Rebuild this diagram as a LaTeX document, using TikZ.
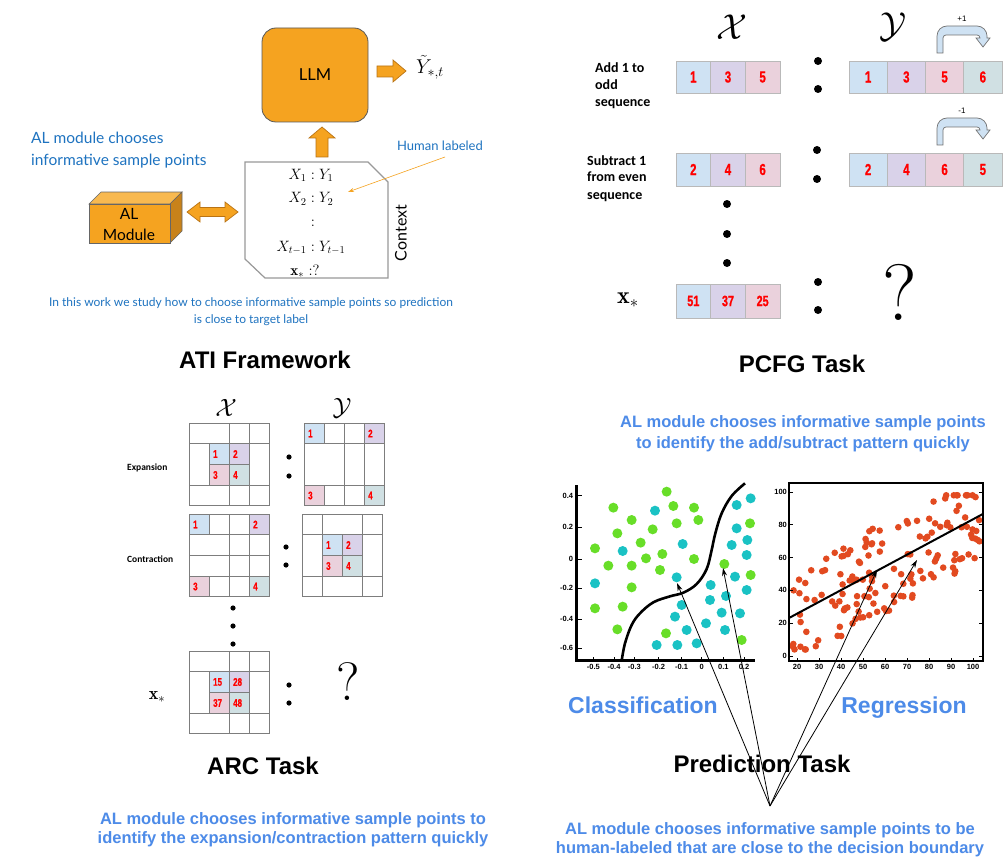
\RequirePackage{fix-cm}
\documentclass[tikz,border=0pt]{standalone}
\usepackage{fontspec}
\usetikzlibrary{arrows.meta}
\newfontfamily\gill{Lato}
\newfontfamily\arial{Liberation Sans}
\newfontfamily\narrow[FakeStretch=0.72,FakeBold=0.8]{Liberation Sans}
\newfontfamily\calib{Carlito}
\definecolor{orng}{RGB}{245,163,32}
\definecolor{orngL}{RGB}{248,185,80}
\definecolor{orngD}{RGB}{200,130,26}
\definecolor{orngE}{RGB}{185,115,20}
\definecolor{atiblue}{RGB}{30,115,192}
\definecolor{capblue}{RGB}{77,139,232}
\definecolor{cB}{RGB}{207,226,243}
\definecolor{cP}{RGB}{217,210,233}
\definecolor{cK}{RGB}{234,209,220}
\definecolor{cT}{RGB}{208,224,227}
\definecolor{cellgray}{RGB}{185,185,185}
\definecolor{gridgray}{RGB}{125,125,125}
\definecolor{dotgreen}{RGB}{104,222,40}
\definecolor{dotteal}{RGB}{26,194,196}
\definecolor{dotred}{RGB}{226,74,32}
\definecolor{numred}{RGB}{255,0,0}

\newcommand\bentarr[3]{% #1 y shift, #2 label, #3 name
\begin{scope}[shift={(0,#1)}]
\draw[fill=cB, draw=black!55, line width=0.7pt]
 (937,53) [rounded corners=10pt] -- (937,26) -- (987,26) [sharp corners] -- (987,38) -- (990,38) -- (983,47) -- (976,38) -- (980,38) [rounded corners=3pt] -- (980,35) -- (943,35) [sharp corners] -- (943,53) -- cycle;
\node[font=\arial\fontsize{8}{8}\selectfont, inner sep=0] (#3) at (962,19) {#2};
\end{scope}}

\newcommand\arcA[2]{%
\begin{scope}[shift={(#1,#2)}, x=20pt, y=-20.7pt]
 \fill[cB] (1,1) rectangle (2,2); \fill[cP] (2,1) rectangle (3,2);
 \fill[cK] (1,2) rectangle (2,3); \fill[cT] (2,2) rectangle (3,3);
 \draw[arcline] (0,0) rectangle (4,4) (0,1) -- (4,1) (0,3) -- (4,3) (2,0) -- (2,4) (3,0) -- (3,4) (1,1) -- (1,3) (1,2) -- (3,2);
\end{scope}}
\newcommand\arcB[3]{%
\begin{scope}[shift={(#1,#2)}, x=20pt, y=-20.7pt]
 \fill[cB] (0,0) rectangle (1,1); \fill[cP] (3,0) rectangle (4,1);
 \fill[cK] (0,3) rectangle (1,4); \fill[cT] (3,3) rectangle (4,4);
 \draw[arcline] (0,0) rectangle (4,4) (0,1) -- (4,1) (0,3) -- (4,3) (2,0) -- (2,4) (3,0) -- (3,4) (1,0) -- (1,1) (1,3) -- (1,4) #3;
\end{scope}}
\newcommand\arcD[2]{%
\begin{scope}[shift={(#1,#2)}, x=20pt, y=-20.7pt]
 \fill[cB] (1,1) rectangle (2,2); \fill[cP] (2,1) rectangle (3,2);
 \fill[cK] (1,2) rectangle (2,3); \fill[cT] (2,2) rectangle (3,3);
 \draw[arcline] (0,0) rectangle (4,4) (0,1) -- (4,1) (0,3) -- (4,3) (1,0) -- (1,4) (3,0) -- (3,4) (2,1) -- (2,3) (1,2) -- (3,2);
\end{scope}}

\begin{document}
\begin{tikzpicture}[x=1pt,y=-1pt,
  atit/.style={text=atiblue, inner sep=0pt},
  blk/.style={inner sep=0pt},
  titletxt/.style={font=\arial\bfseries\fontsize{24}{24}\selectfont, inner sep=0pt, anchor=base},
  btitle/.style={font=\arial\bfseries\fontsize{23}{23}\selectfont, text=capblue, inner sep=0pt, anchor=base},
  captxt/.style={font=\arial\bfseries\fontsize{16.5}{16.5}\selectfont, text=capblue, inner sep=0pt, anchor=base},
  fatarrow/.style={fill=orng, draw=orngE, line width=0.7pt},
  pc/.style={draw=cellgray, line width=0.8pt, inner sep=0pt, minimum height=32pt, font=\narrow\bfseries\fontsize{16}{16}\selectfont, text=numred},
  plab/.style={font=\calib\bfseries\fontsize{14}{14}\selectfont, inner sep=0pt, anchor=base west},
  arcline/.style={draw=gridgray, line width=0.9pt},
  an/.style={font=\narrow\bfseries\fontsize{11}{11}\selectfont, text=numred, inner sep=0pt, anchor=west},
  alab/.style={font=\calib\bfseries\fontsize{9.5}{9.5}\selectfont, inner sep=0pt, anchor=base west},
  ticktxt/.style={font=\arial\bfseries\fontsize{7.5}{7.5}\selectfont, inner sep=0pt},
  ctxm/.style={inner sep=0pt, font=\fontsize{15}{15}\selectfont},
  pointer/.style={line width=0.8pt, -{Stealth[length=8pt,width=5pt]}}
]
\useasboundingbox (0,0) rectangle (1007,864);
\fill[white] (0,0) rectangle (1007,864);

%================ ATI framework ================
\node[draw=black!65, fill=orng, rounded corners=14pt, minimum width=106pt, minimum height=94pt, line width=0.8pt, font=\gill\fontsize{16.5}{16.5}\selectfont, inner sep=0pt] (llm) at (315,75) {LLM};
\draw[fatarrow] (377,66) -- (393,66) -- (393,60) -- (406,71) -- (393,82) -- (393,77) -- (377,77) -- cycle;
\node[blk, anchor=west] (ytil) at (416,67) {\fontsize{20}{20}\selectfont$\tilde{Y}_{*,t}$};
\draw[fatarrow] (316,157) -- (316,138) -- (309,138) -- (322,127) -- (335,138) -- (328,138) -- (328,157) -- cycle;

\draw[draw=black!40, line width=1.2pt] (245,162) -- (368,162) -- (388,182) -- (388,278) -- (265,278) -- (245,259) -- cycle;
\node[ctxm] (c1) at (311,175) {$X_1 : Y_1$};
\node[ctxm] (c2) at (311,199) {$X_2 : Y_2$};
\node[ctxm] (c3) at (313,223) {$:$};
\node[ctxm] (c4) at (311,248) {$X_{t-1} : Y_{t-1}$};
\node[ctxm] (c5) at (305,271) {$\mathbf{x}_*\ {:}?$};
\node[blk, rotate=90, font=\gill\fontsize{16}{16}\selectfont] (ctx) at (401,233) {Context};

\node[atit, anchor=base, font=\gill\fontsize{13}{13}\selectfont] (hl) at (440,150) {Human labeled};
\coordinate (hls) at (445,157);
\coordinate (hlt) at (348,192);
\draw[orng, line width=0.6pt, -{Stealth[length=6pt,width=4pt]}] (hls) -- (hlt);

\node[atit, anchor=base west, font=\gill\fontsize{15.5}{15.5}\selectfont] (al1) at (31,144) {AL module chooses};
\node[atit, anchor=base west, font=\gill\fontsize{15.5}{15.5}\selectfont] (al2) at (31,165) {informative sample points};

\draw[fill=orngL, draw=black!60, line width=0.6pt] (89,204) -- (101,192) -- (182,192) -- (170,204) -- cycle;
\draw[fill=orngD, draw=black!60, line width=0.6pt] (170,204) -- (182,192) -- (182,231) -- (170,243) -- cycle;
\draw[fill=orng, draw=black!60, line width=0.6pt] (89,204) rectangle (170,243);
\node[blk, font=\gill\fontsize{15.5}{15.5}\selectfont] (alA) at (129,214) {AL};
\node[blk, font=\gill\fontsize{15.5}{15.5}\selectfont] (alB) at (129,235) {Module};

\draw[fatarrow] (187,212) -- (200,202) -- (200,207.5) -- (225,207.5) -- (225,202) -- (238,212) -- (225,222) -- (225,216.5) -- (200,216.5) -- (200,222) -- cycle;

\node[atit, anchor=base, font=\gill\fontsize{12}{12}\selectfont] (ac1) at (251,306) {In this work we study how to choose informative sample points so prediction};
\node[atit, anchor=base, font=\gill\fontsize{12}{12}\selectfont] (ac2) at (251,323) {is close to target label};
\node[titletxt] (atitle) at (265,368) {ATI Framework};

%================ PCFG task ================
\node[blk] (pX) at (732,27) {\fontsize{36}{36}\selectfont$\mathcal{X}$};
\node[blk] (pY) at (893,27) {\fontsize{36}{36}\selectfont$\mathcal{Y}$};

\node[plab] (r1a) at (595,73) {Add 1 to};
\node[plab] (r1b) at (595,90) {odd};
\node[plab] (r1c) at (595,107) {sequence};
\node[plab] (r2a) at (587,165) {Subtract 1};
\node[plab] (r2b) at (587,182) {from even};
\node[plab] (r2c) at (587,199) {sequence};

\foreach \n/\c [count=\i from 0] in {1/cB,3/cP,5/cK}
  \node[pc, fill=\c, minimum width=34.67pt] (xa\i) at ({693.3+34.67*\i},77) {\n};
\foreach \n/\c [count=\i from 0] in {1/cB,3/cP,5/cK,6/cT}
  \node[pc, fill=\c, minimum width=38.25pt] (ya\i) at ({868.1+38.25*\i},77) {\n};
\foreach \n/\c [count=\i from 0] in {2/cB,4/cP,6/cK}
  \node[pc, fill=\c, minimum width=34.67pt, minimum height=33pt] (xb\i) at ({693.3+34.67*\i},169.5) {\n};
\foreach \n/\c [count=\i from 0] in {2/cB,4/cP,6/cK,5/cT}
  \node[pc, fill=\c, minimum width=38.25pt, minimum height=33pt] (yb\i) at ({868.1+38.25*\i},169.5) {\n};
\foreach \n/\c [count=\i from 0] in {51/cB,37/cP,25/cK}
  \node[pc, fill=\c, minimum width=34.67pt, minimum height=34pt, font=\narrow\bfseries\fontsize{15}{15}\selectfont] (xs\i) at ({693.3+34.67*\i},301) {\n};

\bentarr{0}{+1}{plus}
\bentarr{92}{-1}{minus}

\fill (818,61) circle (4pt); \fill (818,89) circle (4pt);
\fill (817,150) circle (4pt); \fill (817,179) circle (4pt);
\fill (818,282) circle (4pt); \fill (818,310) circle (4pt);
\fill (727,204) circle (4pt); \fill (727,234) circle (4pt); \fill (727,263) circle (4pt);

\node[blk] (pxs) at (628,300) {\fontsize{24}{24}\selectfont$\mathbf{x}_*$};
\node[blk] (pq) at (900,292) {\fontsize{80}{80}\selectfont ?};
\node[titletxt] (ptit) at (802,372) {PCFG Task};

\node[captxt] (pc1) at (803,427) {AL module chooses informative sample points};
\node[captxt] (pc2) at (803,448) {to identify the add/subtract pattern quickly};

%================ ARC task ================
\node[blk] (aX) at (226,408) {\fontsize{25}{25}\selectfont$\mathcal{X}$};
\node[blk] (aY) at (342,408) {\fontsize{25}{25}\selectfont$\mathcal{Y}$};

\arcA{189}{423}
\node[an] (e1) at (213,454) {1}; \node[an] (e2) at (233,454) {2};
\node[an] (e3) at (213,475) {3}; \node[an] (e4) at (233,475) {4};
\arcB{304}{423}{}
\node[an] (f1) at (308,433.5) {1}; \node[an] (f2) at (368,433.5) {2};
\node[an] (f3) at (308,495.5) {3}; \node[an] (f4) at (368,495.5) {4};
\arcB{189}{514}{(0,2) -- (4,2)}
\node[an] (g1) at (193,524.5) {1}; \node[an] (g2) at (253,524.5) {2};
\node[an] (g3) at (193,586.5) {3}; \node[an] (g4) at (253,586.5) {4};
\arcD{302}{514}
\node[an] (h1) at (326,545) {1}; \node[an] (h2) at (346,545) {2};
\node[an] (h3) at (326,566) {3}; \node[an] (h4) at (346,566) {4};
\arcA{189}{651}
\node[an] (k1) at (213,682) {15}; \node[an] (k2) at (233,682) {28};
\node[an] (k3) at (213,703) {37}; \node[an] (k4) at (233,703) {48};

\node[alab] (exp) at (127,470) {Expansion};
\node[alab] (con) at (127,562) {Contraction};

\fill (289,457) circle (2.6pt); \fill (289,476) circle (2.6pt);
\fill (286,547) circle (2.6pt); \fill (286,565) circle (2.6pt);
\fill (289,685) circle (2.6pt); \fill (289,703) circle (2.6pt);
\fill (233,608) circle (2.6pt); \fill (233,626) circle (2.6pt); \fill (233,644) circle (2.6pt);

\node[blk] (axs) at (157,697) {\fontsize{18}{18}\selectfont$\mathbf{x}_*$};
\node[blk] (aq) at (348,682) {\fontsize{54}{54}\selectfont ?};
\node[titletxt] (atask) at (263,774) {ARC Task};
\node[captxt] (ar1) at (293,824) {AL module chooses informative sample points to};
\node[captxt] (ar2) at (293,843) {identify the expansion/contraction pattern quickly};

%================ Classification plot ================
\begin{scope}[shift={(540,470)}, x=0.33333pt, y=-0.33333pt]
 \foreach \p in {(380,65),(220,113),(400,108),(462,113),(275,150),(410,160),(475,150),(232,190),(338,178),(302,218),(165,235),(367,252),(318,265),(205,287),(275,287),(462,267),(360,300),(275,352),(165,415),(248,410),(232,478),(378,490),(553,282),(632,315),(630,160),(605,510)}
   \fill[dotgreen] \p circle (5pt);
 \foreach \p in {(345,122),(632,85),(590,105),(590,175),(622,210),(575,225),(620,255),(428,222),(248,243),(165,340),(410,322),(585,320),(620,360),(512,345),(558,378),(425,405),(510,390),(405,440),(545,428),(600,430),(440,480),(498,460),(555,480),(350,525),(412,525),(470,520)}
   \fill[dotteal] \p circle (5pt);
 \draw[line width=2.6pt] plot[smooth, tension=0.6] coordinates {(245,572) (255,520) (275,465) (300,430) (340,397) (390,379) (430,368) (470,342) (500,297) (515,240) (526,190) (545,130) (575,78) (615,40)};
 \draw[line width=2.4pt] (110,45) -- (110,572) -- (645,572);
 \foreach \yy/\t in {77/0.4,172/0.2,267/0,355/-0.2,447/-0.4,535/-0.6} {
   \draw[line width=1pt] (110,\yy) -- (125,\yy);
   \node[ticktxt, anchor=east] at (100,\yy) {\t};
 }
 \foreach \xx/\t in {160/-0.5,222/-0.4,283/-0.3,356/-0.2,425/-0.1,485/0,550/0.1,612/0.2} {
   \draw[line width=1pt] (\xx,572) -- (\xx,560);
   \node[ticktxt] at (\xx,592) {\t};
 }
\end{scope}

%================ Regression plot ================
\begin{scope}[shift={(753,656)}, x=2.2pt, y=1.64pt]
 \pgfmathsetseed{2718}
 \foreach \i in {1,...,150} {
   \pgfmathsetmacro\vx{18+85*rnd}
   \pgfmathsetmacro\vy{min(98,max(4,11+0.72*\vx+56*(rnd-0.5)))}
   \fill[dotred] (\vx,\vy) circle (3.3pt);
 }
 \draw[line width=2.4pt] (16.4,-3) rectangle (104.5,105.5);
 \draw[line width=2pt] (16.4,23.2) -- (104.5,86.6);
 \foreach \v in {0,20,...,100} {
   \draw[line width=1pt] (104.5,\v) -- (102.8,\v);
   \draw[line width=1pt] (16.4,\v) -- (18.1,\v);
   \node[ticktxt, anchor=east] at (15.5,\v) {\v};
 }
 \foreach \v in {20,30,...,100} {
   \draw[line width=1pt] (\v,-3) -- (\v,-1);
   \node[ticktxt] at (\v,-6.8) {\v};
 }
\end{scope}

%================ Prediction task labels and pointers ================
\node[btitle] (cls) at (643,713) {Classification};
\node[btitle] (reg) at (904,713) {Regression};
\node[titletxt] (ptask) at (762,772) {Prediction Task};
\node[captxt] (pr1) at (770,834) {AL module chooses informative sample points to be};
\node[captxt] (pr2) at (770,853) {human-labeled that are close to the decision boundary};

\coordinate (conv) at (770,806);
\coordinate (ct1) at (677,583);
\coordinate (ct2) at (723,568);
\coordinate (rt1) at (877,570);
\coordinate (rt2) at (917,560);
\draw[pointer] (conv) -- (ct1);
\draw[pointer] (conv) -- (ct2);
\draw[pointer] (conv) -- (rt1);
\draw[pointer] (conv) -- (rt2);
\end{tikzpicture}
\end{document}
